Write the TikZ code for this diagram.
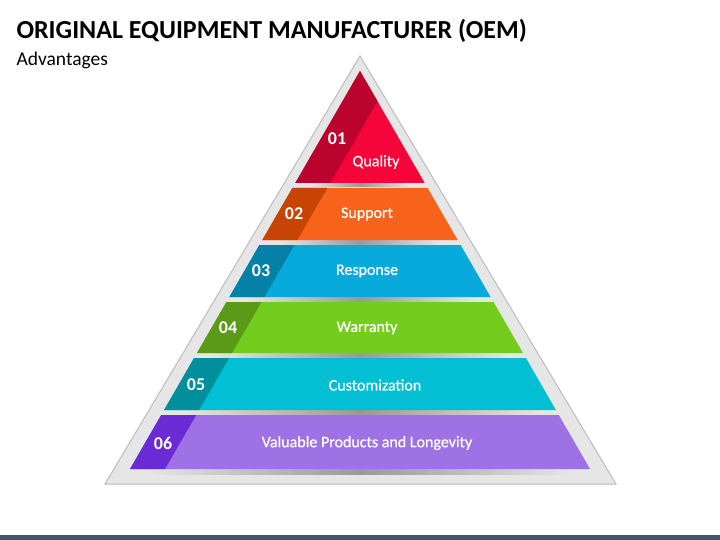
\documentclass[tikz,border=0pt]{standalone}
\usepackage{fontspec}
\setmainfont{Carlito}
\newfontfamily\bandfont[FakeBold=0.7]{Carlito}
\usetikzlibrary{calc}

\definecolor{framegray}{HTML}{E6E6E6}
\definecolor{frameline}{HTML}{BDBDBD}
\definecolor{footbar}{HTML}{44546A}
\definecolor{qualitylight}{HTML}{F50539}
\definecolor{qualitydark}{HTML}{BA042D}
\definecolor{supportlight}{HTML}{F8631B}
\definecolor{supportdark}{HTML}{C84405}
\definecolor{responselight}{HTML}{08AADC}
\definecolor{responsedark}{HTML}{0580A6}
\definecolor{warrantylight}{HTML}{74CC1E}
\definecolor{warrantydark}{HTML}{5A9A17}
\definecolor{customlight}{HTML}{02BFD3}
\definecolor{customdark}{HTML}{008F9B}
\definecolor{valuelight}{HTML}{9E72E4}
\definecolor{valuedark}{HTML}{6A2BD4}

\begin{document}
\begin{tikzpicture}[x=1pt,y=-1pt,
    numtext/.style={text=white,font=\fontsize{18}{21}\selectfont\bfseries},
    bandtext/.style={text=white,font=\bandfont\fontsize{16}{19}\selectfont},
    bandshadow/.style={left color=framegray,right color=framegray,middle color=black!40}]
            \useasboundingbox[fill=white] (0,0) rectangle (720,540);

            % title
            \node[anchor=west,font=\fontsize{26}{30}\selectfont\bfseries] (title) at (13,31) {ORIGINAL EQUIPMENT MANUFACTURER (OEM)};
            \node[anchor=west,font=\fontsize{19.5}{23}\selectfont] (subtitle) at (13,60) {Advantages};

            % gray frame
            \filldraw[fill=framegray,draw=frameline,line width=1pt] (360,56) -- (105,484) -- (616,484) -- cycle;

            % shadows under the bands
            \shade[bandshadow] (310,183) rectangle (410,187);
            \shade[bandshadow] (280,240) rectangle (440,244);
            \shade[bandshadow] (245,297) rectangle (475,301);
            \shade[bandshadow] (212,353) rectangle (508,357);
            \shade[bandshadow] (180,410) rectangle (540,414);
            \shade[bandshadow] (146,469) rectangle (574,474);

            % bands
            \fill[qualitylight] (360,71) -- (295.3,183) -- (424.7,183) -- cycle;
            \fill[qualitydark] (360,71) -- (377.5,101.3) -- (330.3,183) -- (295.3,183) -- cycle;

            \fill[supportlight] (292.4,188) -- (427.6,188) -- (457.7,240) -- (262.3,240) -- cycle;
            \fill[supportdark] (292.4,188) -- (327.4,188) -- (297.3,240) -- (262.3,240) -- cycle;

            \fill[responselight] (259.4,245) -- (460.6,245) -- (490.6,297) -- (229.4,297) -- cycle;
            \fill[responsedark] (259.4,245) -- (294.4,245) -- (264.4,297) -- (229.4,297) -- cycle;

            \fill[warrantylight] (226.5,302) -- (493.5,302) -- (523,353) -- (197,353) -- cycle;
            \fill[warrantydark] (226.5,302) -- (261.5,302) -- (232,353) -- (197,353) -- cycle;

            \fill[customlight] (194.1,358) -- (525.9,358) -- (555.9,410) -- (164.1,410) -- cycle;
            \fill[customdark] (194.1,358) -- (229.1,358) -- (199.1,410) -- (164.1,410) -- cycle;

            \fill[valuelight] (161.2,415) -- (558.8,415) -- (590,469) -- (130,469) -- cycle;
            \fill[valuedark] (161.2,415) -- (196.2,415) -- (165,469) -- (130,469) -- cycle;

            % labels
            \node[numtext] (num1) at (337,139) {01};
            \node[bandtext] (lab1) at (376,162) {Quality};
            \node[numtext] (num2) at (294,214) {02};
            \node[bandtext] (lab2) at (367,214) {Support};
            \node[numtext] (num3) at (261,271) {03};
            \node[bandtext] (lab3) at (367,271) {Response};
            \node[numtext] (num4) at (228,328) {04};
            \node[bandtext] (lab4) at (367,328) {Warranty};
            \node[numtext] (num5) at (196,385) {05};
            \node[bandtext] (lab5) at (375,385) {Customization};
            \node[numtext] (num6) at (163,443) {06};
            \node[bandtext] (lab6) at (367,443) {Valuable Products and Longevity};

            % footer bar
            \fill[footbar] (0,535) rectangle (720,540);
        \end{tikzpicture}
\end{document}
